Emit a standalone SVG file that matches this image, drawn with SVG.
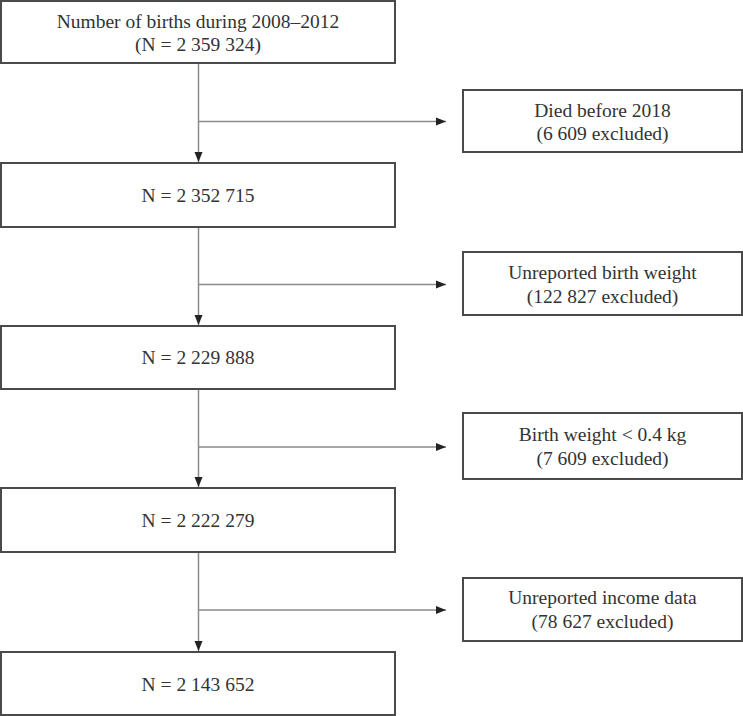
<svg xmlns="http://www.w3.org/2000/svg" width="743" height="716" viewBox="0 0 743 716">
<defs>
<style>
.box{fill:#fff;stroke:#4a4a4a;stroke-width:2}
.t{font-family:"Liberation Serif","Times New Roman",serif;font-size:19.5px;fill:#333;text-anchor:middle}
.ln{fill:none;stroke:#8a8a8a;stroke-width:1.5}
</style>
<marker id="ah" viewBox="0 0 10 10" refX="10" refY="5" markerWidth="10" markerHeight="10" markerUnits="userSpaceOnUse" orient="auto">
<path d="M0,1 L10,5 L0,9 Z" fill="#222"/>
</marker>
</defs>
<rect width="743" height="716" fill="#fff"/>
<g id="connectors">
<line class="ln" x1="198.5" y1="64" x2="198.5" y2="162" marker-end="url(#ah)"/>
<line class="ln" x1="198.5" y1="121.5" x2="446" y2="121.5" marker-end="url(#ah)"/>
<line class="ln" x1="198.5" y1="227" x2="198.5" y2="325" marker-end="url(#ah)"/>
<line class="ln" x1="198.5" y1="284.5" x2="446" y2="284.5" marker-end="url(#ah)"/>
<line class="ln" x1="198.5" y1="390" x2="198.5" y2="487" marker-end="url(#ah)"/>
<line class="ln" x1="198.5" y1="447" x2="446" y2="447" marker-end="url(#ah)"/>
<line class="ln" x1="198.5" y1="553" x2="198.5" y2="651" marker-end="url(#ah)"/>
<line class="ln" x1="198.5" y1="610" x2="446" y2="610" marker-end="url(#ah)"/>
</g>
<g id="n1"><rect class="box" x="1" y="1" width="394" height="62"/>
<text class="t" x="198" y="28">Number of births during 2008–2012</text>
<text class="t" x="198" y="51">(N = 2 359 324)</text></g>
<g id="n2"><rect class="box" x="1" y="163" width="394" height="64"/>
<text class="t" x="198" y="202">N = 2 352 715</text></g>
<g id="n3"><rect class="box" x="1" y="326" width="394" height="63"/>
<text class="t" x="198" y="364">N = 2 229 888</text></g>
<g id="n4"><rect class="box" x="1" y="488" width="394" height="64"/>
<text class="t" x="198" y="527">N = 2 222 279</text></g>
<g id="n5"><rect class="box" x="1" y="652" width="394" height="63"/>
<text class="t" x="198" y="691">N = 2 143 652</text></g>
<g id="e1"><rect class="box" x="463" y="90" width="279" height="62"/>
<text class="t" x="602.5" y="116.5">Died before 2018</text>
<text class="t" x="602.5" y="140">(6 609 excluded)</text></g>
<g id="e2"><rect class="box" x="463" y="252" width="279" height="63"/>
<text class="t" x="602.5" y="279">Unreported birth weight</text>
<text class="t" x="602.5" y="302.5">(122 827 excluded)</text></g>
<g id="e3"><rect class="box" x="463" y="413" width="279" height="66"/>
<text class="t" x="602.5" y="441">Birth weight &lt; 0.4 kg</text>
<text class="t" x="602.5" y="464.5">(7 609 excluded)</text></g>
<g id="e4"><rect class="box" x="463" y="578" width="279" height="63"/>
<text class="t" x="602.5" y="604">Unreported income data</text>
<text class="t" x="602.5" y="628">(78 627 excluded)</text></g>
</svg>
